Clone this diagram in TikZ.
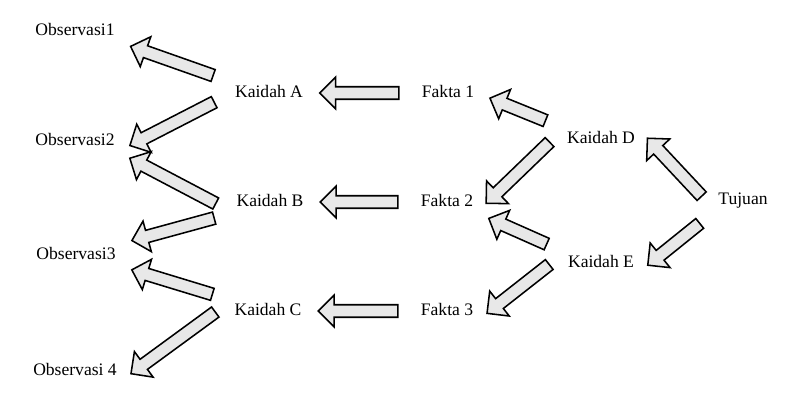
\documentclass[tikz,border=0pt]{standalone}
\usepackage{fontspec}
\setmainfont{Liberation Serif}
\usetikzlibrary{calc, shapes.arrows}

% block arrow laid between two anchors, pulled in by \arrgap at both ends
\newcommand\arrgap{12pt}
\newcommand\blockarrow[2]{%
  \path let \p1=($(#1)!\arrgap!(#2)$), \p2=($(#2)!\arrgap!(#1)$),
            \n1={atan2(\y2-\y1,\x2-\x1)}, \n2={veclen(\x2-\x1,\y2-\y1)} in
    node[fatarr, minimum height=\n2, rotate=\n1] at ($(\p1)!0.5!(\p2)$) {};}

\begin{document}
\begin{tikzpicture}[
  x=0.025cm, y=-0.025cm,
  term/.style={inner sep=2pt, text height=9pt, text depth=2pt,
               font=\fontsize{12.5}{14}\selectfont},
  fatarr/.style={single arrow, draw=black, line width=1.1pt, fill=black!9,
                 inner xsep=0pt, inner ysep=3.9pt, single arrow head extend=6.8pt,
                 single arrow tip angle=90, anchor=center}
]
\useasboundingbox (0,0) rectangle (806,410);

% ---------------------------------------------- the observations
\node[term] (obs1) at (75,31)  {Observasi1};
\node[term] (obs2) at (75,141) {Observasi2};
\node[term] (obs3) at (76,255) {Observasi3};
\node[term] (obs4) at (75,371) {Observasi 4};

% ---------------------------------------------- the first rules
\node[term] (kaidahA) at (269,93)  {Kaidah A};
\node[term] (kaidahB) at (270,202) {Kaidah B};
\node[term] (kaidahC) at (268,311) {Kaidah C};

% ---------------------------------------------- the facts
\node[term] (fakta1) at (448,93)  {Fakta 1};
\node[term] (fakta2) at (447,202) {Fakta 2};
\node[term] (fakta3) at (447,311) {Fakta 3};

% ---------------------------------------------- the second rules and the goal
\node[term] (kaidahD) at (601,139) {Kaidah D};
\node[term] (kaidahE) at (601,263) {Kaidah E};
\node[term] (tujuan)  at (743,200) {Tujuan};

% ---------------------------------------------- goal to rules
\blockarrow{tujuan.south west}{kaidahD.north east}
\blockarrow{tujuan.south west}{kaidahE.south east}

% ---------------------------------------------- rules to facts
\blockarrow{kaidahD.north west}{fakta1.east}
\blockarrow{kaidahD.north west}{fakta2.south east}
\blockarrow{kaidahE.north west}{fakta2.south east}
\blockarrow{kaidahE.north west}{fakta3.south east}

% ---------------------------------------------- facts to rules
\blockarrow{fakta1.west}{kaidahA.east}
\blockarrow{fakta2.west}{kaidahB.east}
\blockarrow{fakta3.west}{kaidahC.east}

% ---------------------------------------------- rules to observations
\blockarrow{kaidahA.north west}{obs1.south east}
\blockarrow{kaidahA.west}{obs2.south east}
\blockarrow{kaidahB.south west}{obs2.south east}
\blockarrow{kaidahB.south west}{obs3.north east}
\blockarrow{kaidahC.north west}{obs3.south east}
\blockarrow{kaidahC.north west}{obs4.south east}

\end{tikzpicture}
\end{document}
